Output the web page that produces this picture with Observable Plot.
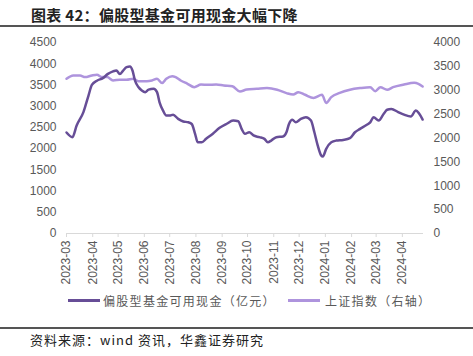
<!DOCTYPE html>
<html><head><meta charset="utf-8">
<script src="https://cdn.jsdelivr.net/npm/d3@7"></script>
<script src="https://cdn.jsdelivr.net/npm/@observablehq/plot@0.6"></script>
<style>
body{margin:0;background:#fff;width:473px;height:356px;overflow:hidden;position:relative;font-family:"Noto Sans CJK SC",sans-serif;}
#title{position:absolute;left:31px;top:4px;font-size:15px;font-weight:bold;color:#222;white-space:nowrap;letter-spacing:0.3px;}
.rule{position:absolute;left:0;width:473px;height:1.5px;background:#555;}
#chart{position:absolute;left:0;top:30px;}
.leg{position:absolute;top:292px;font-size:12px;color:#595959;white-space:nowrap;letter-spacing:1.3px;}
.sw{position:absolute;height:3px;top:299px;}
#source{position:absolute;left:30px;top:330px;font-size:13px;color:#222;letter-spacing:1px;white-space:nowrap;}
</style></head>
<body>
<div id="title">图表 42：偏股型基金可用现金大幅下降</div>
<div class="rule" style="top:25px"></div>
<div id="chart"></div>
<div class="sw" style="left:68px;width:32px;background:#674E97"></div>
<div class="leg" style="left:103px">偏股型基金可用现金（亿元）</div>
<div class="sw" style="left:288px;width:32px;background:#AE94DD"></div>
<div class="leg" style="left:325px">上证指数（右轴）</div>
<div class="rule" style="top:327px"></div>
<div id="source">资料来源：wind 资讯，华鑫证券研究</div>
<script>
const fundDates = ["2023-03-01","2023-03-08","2023-03-13","2023-03-21","2023-03-27","2023-03-31","2023-04-06","2023-04-13","2023-04-19","2023-04-25","2023-04-29","2023-05-03","2023-05-07","2023-05-11","2023-05-15","2023-05-18","2023-05-21","2023-05-25","2023-05-29","2023-06-02","2023-06-06","2023-06-12","2023-06-16","2023-06-19","2023-06-23","2023-06-27","2023-07-01","2023-07-05","2023-07-11","2023-07-17","2023-07-23","2023-07-27","2023-07-31","2023-08-03","2023-08-08","2023-08-13","2023-08-21","2023-08-29","2023-09-06","2023-09-14","2023-09-20","2023-09-24","2023-09-28","2023-10-03","2023-10-08","2023-10-15","2023-10-21","2023-10-25","2023-10-29","2023-11-04","2023-11-12","2023-11-16","2023-11-19","2023-11-23","2023-11-27","2023-12-03","2023-12-09","2023-12-15","2023-12-19","2023-12-23","2023-12-27","2023-12-29","2024-01-02","2024-01-08","2024-01-14","2024-01-22","2024-01-30","2024-02-05","2024-02-11","2024-02-19","2024-02-23","2024-02-27","2024-03-04","2024-03-10","2024-03-14","2024-03-19","2024-03-27","2024-04-03","2024-04-11","2024-04-17","2024-04-21","2024-04-25"];
const fundValues = [2380,2270,2545,2860,3250,3500,3600,3660,3760,3820,3840,3760,3840,3920,3935,3840,3600,3450,3370,3330,3390,3410,3330,3090,2900,2780,2780,2800,2700,2640,2620,2580,2350,2150,2150,2230,2350,2490,2580,2660,2645,2465,2350,2385,2310,2270,2230,2150,2190,2270,2285,2385,2580,2680,2620,2700,2740,2660,2385,2070,1840,1815,1995,2150,2190,2205,2245,2385,2465,2560,2620,2740,2660,2820,2915,2935,2860,2800,2755,2900,2820,2685];
const sseDates = ["2023-03-01","2023-03-09","2023-03-17","2023-03-23","2023-03-31","2023-04-06","2023-04-12","2023-04-18","2023-04-25","2023-05-03","2023-05-11","2023-05-19","2023-05-25","2023-06-04","2023-06-10","2023-06-16","2023-06-22","2023-06-27","2023-07-04","2023-07-08","2023-07-14","2023-07-22","2023-07-30","2023-08-07","2023-08-15","2023-08-25","2023-09-03","2023-09-13","2023-09-22","2023-09-30","2023-10-12","2023-10-24","2023-11-05","2023-11-16","2023-11-24","2023-11-30","2023-12-08","2023-12-18","2023-12-28","2024-01-02","2024-01-08","2024-01-18","2024-01-30","2024-02-11","2024-02-23","2024-02-29","2024-03-06","2024-03-14","2024-03-21","2024-04-03","2024-04-15","2024-04-20","2024-04-25"];
const sseValues = [3240,3310,3310,3275,3310,3325,3275,3275,3205,3220,3220,3240,3190,3190,3205,3240,3150,3240,3295,3275,3205,3135,3065,3120,3115,3120,3100,3085,2975,3015,3030,3045,3010,2940,2910,2960,2905,2840,2905,2735,2855,2945,3010,3045,3065,2980,3065,3010,3065,3120,3155,3135,3080];
const leftTicks = [0,500,1000,1500,2000,2500,3000,3500,4000,4500];
const rightTicks = [0,500,1000,1500,2000,2500,3000,3500,4000];
const monthTicks = ["2023-03","2023-04","2023-05","2023-06","2023-07","2023-08","2023-09","2023-10","2023-11","2023-12","2024-01","2024-02","2024-03","2024-04"];

const leftMax = 4500, rightMax = 4000, k = leftMax / rightMax;
const fund = fundDates.map((d, i) => ({date: new Date(d), v: fundValues[i]}));
const sse = sseDates.map((d, i) => ({date: new Date(d), v: sseValues[i] * k}));
const tickDates = monthTicks.map(m => new Date(m + "-01"));

const chart = Plot.plot({
  width: 473, height: 260,
  marginLeft: 66, marginRight: 50, marginTop: 12, marginBottom: 57,
  style: {fontFamily: "'Liberation Sans', Arial, sans-serif", fontSize: "12px", color: "#595959", background: "transparent"},
  x: {type: "utc", domain: [new Date("2023-03-01"), new Date("2024-04-26")]},
  y: {domain: [0, leftMax]},
  marks: [
    Plot.ruleY([0], {stroke: "#d9d9d9", strokeWidth: 1}),
    Plot.axisX({ticks: tickDates, tickFormat: d3.utcFormat("%Y-%m"), tickRotate: -90, tickSize: 4, tickPadding: 3, stroke: "#d9d9d9", fill: "#595959", label: null}),
    Plot.axisY({anchor: "left", ticks: leftTicks, tickSize: 0, tickPadding: 10, tickFormat: d3.format("d"), label: null, fill: "#595959"}),
    Plot.axisY({anchor: "right", ticks: rightTicks.map(t => t * k), tickSize: 0, tickPadding: 10, tickFormat: d => d3.format("d")(Math.round(d / k)), label: null, fill: "#595959"}),
    Plot.line(sse, {x: "date", y: "v", stroke: "#AE94DD", strokeWidth: 2.5, curve: "monotone-x"}),
    Plot.line(fund, {x: "date", y: "v", stroke: "#674E97", strokeWidth: 2.5, curve: "monotone-x"})
  ]
});
document.getElementById("chart").appendChild(chart);
</script>
</body></html>
